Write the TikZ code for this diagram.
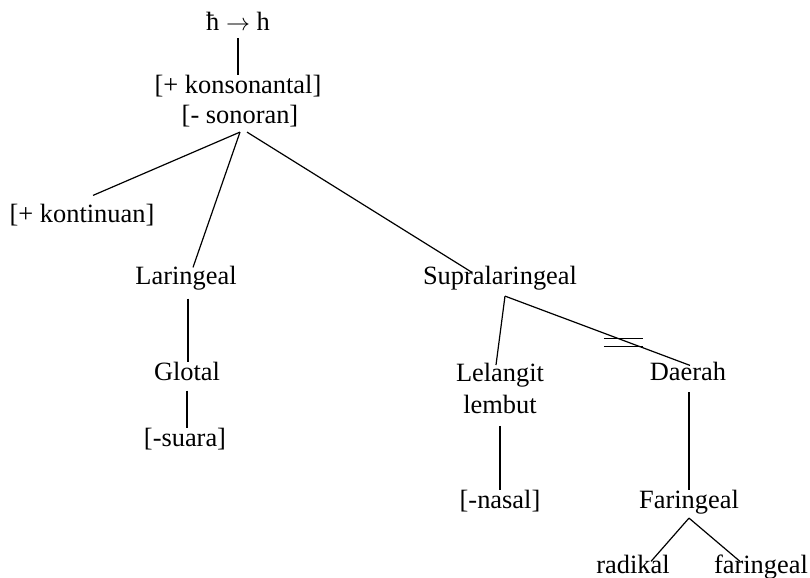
\documentclass[tikz,border=0pt]{standalone}
\usepackage{fontspec}
\setmainfont{Liberation Serif}
\usetikzlibrary{positioning}

\begin{document}
\begin{tikzpicture}[x=0.5pt, y=-0.5pt, line width=0.6pt,
    feat/.style={inner sep=0pt, text height=9.2pt, text depth=3.3pt,
                 font=\fontsize{13.2}{16}\selectfont},
    twoline/.style={inner sep=0pt, align=center,
                    font=\fontsize{13.2}{16}\selectfont}]
  \useasboundingbox (0,0) rectangle (810,578);
  % nodes of the tree
  \node[feat] (rule) at (238,25) {ħ $\rightarrow$ h};
  \node[feat] (kons) at (238,88) {[+ konsonantal]};
  \node[feat] (son) at (240,118) {[- sonoran]};
  \node[feat] (kont) at (82,217) {[+ kontinuan]};
  \node[feat] (laring) at (186,279) {Laringeal};
  \node[feat] (supra) at (500,279) {Supralaringeal};
  \node[feat] (glot) at (187,375) {Glotal};
  \node[feat] (suara) at (185,441) {[-suara]};
  \node[twoline, anchor=north] (lelang) at (500,363) {Lelangit\\lembut};
  \node[feat] (daerah) at (688,375) {Daerah};
  \node[feat] (nasal) at (500,503) {[-nasal]};
  \node[feat] (faring) at (689,503) {Faringeal};
  \node[feat] (radik) at (633,568) {radikal};
  \node[feat] (faring2) at (761,568) {faringeal};
  % branches
  \draw (rule.south) -- (rule.south |- kons.north);
  \draw ([yshift=-0.5pt]son.south) -- ([xshift=5.5pt,yshift=4.25pt]kont.north);
  \draw ([yshift=-0.5pt]son.south) -- ([xshift=3.5pt,yshift=-0.75pt]laring.north);
  \draw ([xshift=3.5pt,yshift=-0.5pt]son.south) -- ([xshift=-14pt,yshift=-3.25pt]supra.north);
  \draw ([xshift=1pt,yshift=-3.25pt]laring.south) -- ([xshift=1pt]laring.south |- glot.north);
  \draw ([yshift=-1.25pt]glot.south) -- (glot.south |- suara.north);
  \draw ([xshift=2.5pt,yshift=-2pt]supra.south) -- ([xshift=-2pt,yshift=-1pt]lelang.north);
  \draw ([xshift=2.5pt,yshift=-2pt]supra.south) -- coordinate[pos=0.64] (cut)
    ([xshift=1pt,yshift=-1.75pt]daerah.north);
  \draw ([yshift=-5.5pt]lelang.south) -- (lelang.south |- nasal.north);
  \draw ([xshift=0.5pt,yshift=-2pt]daerah.south) -- ([xshift=0.5pt]daerah.south |- faring.north);
  \draw ([yshift=-1pt]faring.south) -- ([xshift=9pt,yshift=-3.25pt]radik.north);
  \draw ([yshift=-1pt]faring.south) -- ([xshift=-10.5pt,yshift=-3.25pt]faring2.north);
  % delinking mark
  \draw ([xshift=-9.75pt,yshift=0.8pt]cut) -- ++(19.5pt,0);
  \draw ([xshift=-9.75pt,yshift=-3.2pt]cut) -- ++(19.5pt,0);
\end{tikzpicture}
\end{document}
